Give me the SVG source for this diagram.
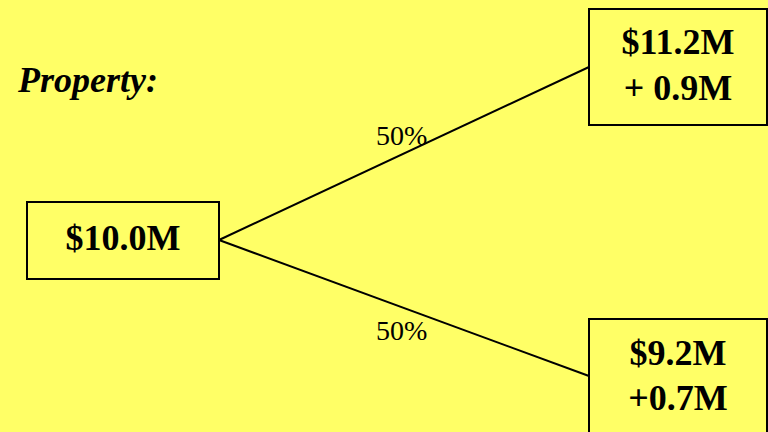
<svg xmlns="http://www.w3.org/2000/svg" width="768" height="432" viewBox="0 0 768 432">
<style>
.box{fill:#FFFF66;stroke:#000;stroke-width:2}
.t{font-family:"Liberation Serif",serif;font-weight:bold;font-size:36px;text-anchor:middle;fill:#000}
.p{font-family:"Liberation Serif",serif;font-size:28px;fill:#000}
.c{stroke:#000;stroke-width:2;fill:none}
</style>
<rect width="768" height="432" fill="#FFFF66"/>
<text x="18" y="92" style="font-family:'Liberation Serif',serif;font-weight:bold;font-style:italic;font-size:36px">Property:</text>
<g id="connectors">
<line class="c" x1="219" y1="240" x2="589" y2="67"/>
<line class="c" x1="219" y1="240" x2="589" y2="376"/>
<text class="p" x="376" y="145">50%</text>
<text class="p" x="376" y="340">50%</text>
</g>
<g id="root">
<rect class="box" x="27" y="202" width="192" height="77"/>
<text class="t" x="123" y="250">$10.0M</text>
</g>
<g id="up">
<rect class="box" x="589" y="9" width="178" height="116"/>
<text class="t" x="678" y="54">$11.2M</text>
<text class="t" x="678" y="100">+ 0.9M</text>
</g>
<g id="down">
<rect class="box" x="589" y="319" width="178" height="120"/>
<text class="t" x="678" y="365">$9.2M</text>
<text class="t" x="678" y="410">+0.7M</text>
</g>
</svg>
